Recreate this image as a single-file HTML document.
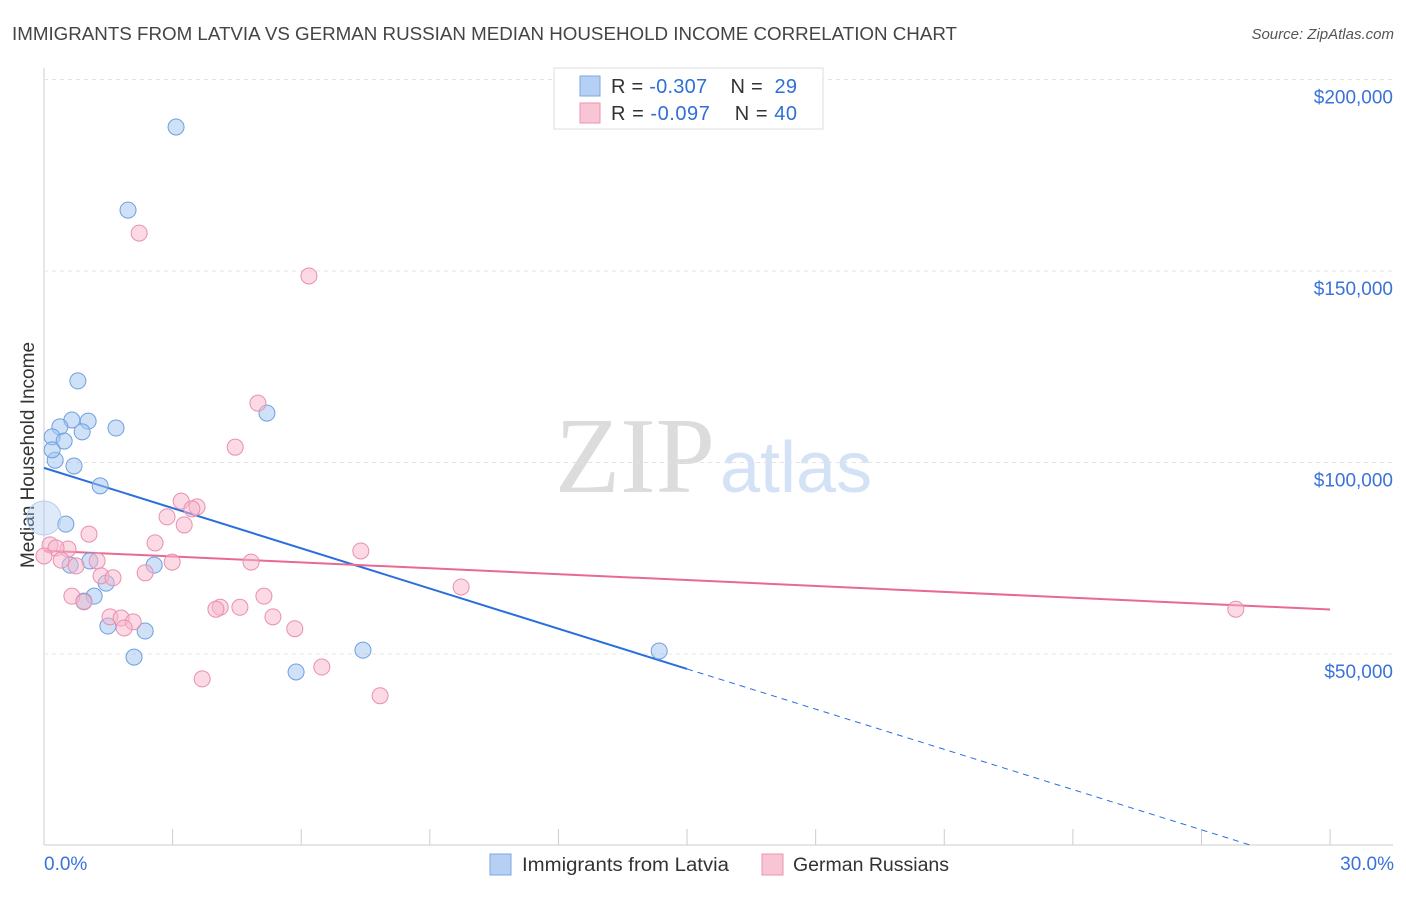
<!DOCTYPE html>
<html><head><meta charset="utf-8"><style>
body{margin:0;background:#fff;font-family:"Liberation Sans",sans-serif;}
</style></head><body>
<svg id="c" width="1406" height="892" xmlns="http://www.w3.org/2000/svg" style="font-family:'Liberation Sans',sans-serif">
<text x="12" y="40" font-size="18" fill="#444" textLength="945" lengthAdjust="spacingAndGlyphs">IMMIGRANTS FROM LATVIA VS GERMAN RUSSIAN MEDIAN HOUSEHOLD INCOME CORRELATION CHART</text>
<text x="1394" y="39" font-size="15" fill="#555" font-style="italic" text-anchor="end">Source: ZipAtlas.com</text>
<text x="555" y="492" font-size="108" fill="#dcdcdc" textLength="160" lengthAdjust="spacingAndGlyphs" font-family="'Liberation Serif',serif">ZIP</text>
<text x="720" y="492" font-size="72" fill="#d4e2f5">atlas</text>
<text transform="translate(34,455) rotate(-90)" font-size="19" fill="#333" text-anchor="middle">Median Household Income</text>
<g id="grid"></g><g id="lines"></g><g id="pts"></g>
<g>
<rect x="554" y="68" width="269" height="61" fill="#fff" stroke="#ddd"/>
<rect x="580" y="76" width="20" height="20" fill="#b5d0f3" stroke="#7aa7e3"/>
<rect x="580" y="103" width="20" height="20" fill="#f9c4d4" stroke="#eb95b2"/>
<text x="611" y="93" font-size="20" fill="#333" textLength="186" lengthAdjust="spacing">R = <tspan fill="#2f6fd6">-0.307</tspan>&#160;&#160;&#160;&#160;N = &#160;<tspan fill="#2f6fd6">29</tspan></text>
<text x="611" y="120" font-size="20" fill="#333" textLength="186" lengthAdjust="spacing">R = <tspan fill="#2f6fd6">-0.097</tspan>&#160;&#160;&#160;&#160;N = <tspan fill="#2f6fd6">40</tspan></text>
</g>
<text x="44" y="870" font-size="19" fill="#3a72d8">0.0%</text>
<text x="1394" y="870" font-size="19" fill="#3a72d8" text-anchor="end">30.0%</text>
<rect x="490" y="854" width="21" height="21" fill="#b5d0f3" stroke="#7aa7e3"/>
<text x="522" y="871" font-size="19" fill="#333" textLength="207" lengthAdjust="spacingAndGlyphs">Immigrants from Latvia</text>
<rect x="762" y="854" width="21" height="21" fill="#f9c4d4" stroke="#eb95b2"/>
<text x="793" y="871" font-size="19" fill="#333" textLength="156" lengthAdjust="spacingAndGlyphs">German Russians</text>
</svg>
<script>
const yTicks=[50000,100000,150000,200000];
const yTickLabels=["$50,000","$100,000","$150,000","$200,000"];
const xTicks=[0,3,6,9,12,15,18,21,24,27,30];
const latviaX=[3.08,1.96,0.79,5.2,1.68,0.65,1.03,0.37,0.89,0.19,0.47,0.26,0.70,1.31,0.51,0,0.61,1.07,2.57,1.45,1.17,0.93,1.49,2.36,2.10,5.88,7.44,14.35,0.19];
const latviaY=[187600,165900,121300,112900,109000,111100,110800,109300,108000,106700,105600,100600,99100,93900,83900,85500,73200,74300,73200,68500,65100,63800,57300,56000,49200,45300,51000,50800,103300];
const grX=[2.22,6.18,4.99,4.46,3.2,3.57,3.45,2.87,3.27,1.05,2.59,7.39,0.14,0.56,0.28,0,0.40,1.24,2.99,4.83,0.75,1.33,1.61,2.36,9.73,0.65,0.93,5.13,4.11,4.01,4.57,1.54,1.80,2.08,1.87,5.34,5.85,6.48,3.69,7.84,27.8];
const grY=[159900,148700,115500,104000,89900,88400,87900,85800,83700,81300,79000,76900,78500,77400,77700,75600,74500,74300,74000,74000,73000,70400,69900,71200,67500,65100,63600,65100,62200,61700,62200,59700,59400,58400,56800,59700,56600,46600,43500,39100,61700];
const latviaTrend=[98600,-3500];
const grTrend=[77000,-513];
const NS="http://www.w3.org/2000/svg";
const X=v=>44+v*42.87, Y=v=>845.5-v/261.1;
function mk(t,a,p){const e=document.createElementNS(NS,t);for(const k in a)e.setAttribute(k,a[k]);p.appendChild(e);return e;}
const g=document.getElementById('grid'),L=document.getElementById('lines'),P=document.getElementById('pts');
const ax=mk('line',{x1:44,y1:68,x2:44,y2:845,stroke:'#ccc'},g);


const bx=mk('line',{x1:44,y1:845,x2:1393,y2:845,stroke:'#ccc'},g);


yTicks.forEach((v,i)=>{
 const l=mk('line',{x1:44,y1:Y(v),x2:1393,y2:Y(v),stroke:'#e4e4e4','stroke-dasharray':'4,4'},g);
 
 
 const t=mk('text',{x:1393,y:Y(v)+24,'font-size':19,fill:'#3a72d8','text-anchor':'end'},g);
 t.textContent=yTickLabels[i];
 
 
});
xTicks.forEach(v=>{
 const l=mk('line',{x1:X(v),y1:829,x2:X(v),y2:845,stroke:'#ccc'},g);
 
 
});
const f=(t,x)=>t[0]+t[1]*x;
const b1=mk('line',{x1:X(0),y1:Y(f(latviaTrend,0)),x2:X(15),y2:Y(f(latviaTrend,15)),stroke:'#2a6fdb','stroke-width':2},L);


const xe=-latviaTrend[0]/latviaTrend[1];
const b2=mk('line',{x1:X(15),y1:Y(f(latviaTrend,15)),x2:X(xe),y2:Y(0),stroke:'#2a6fdb','stroke-width':1,'stroke-dasharray':'6,5'},L);


const p1=mk('line',{x1:X(0),y1:Y(f(grTrend,0)),x2:X(30),y2:Y(f(grTrend,30)),stroke:'#e86a93','stroke-width':2},L);


latviaX.forEach((x,i)=>{
 const big=x===0;
 const c=mk('circle',{cx:X(x),cy:Y(latviaY[i]),r:(big?17:8),fill:big?'rgba(160,196,240,0.35)':'rgba(160,196,240,0.5)',stroke:big?'#b5cdef':'#6f9fe0','stroke-width':1},P);
 
 
});
grX.forEach((x,i)=>{
 const c=mk('circle',{cx:X(x),cy:Y(grY[i]),r:8,fill:'rgba(247,182,204,0.5)',stroke:'#e98fae','stroke-width':1},P);
 
 
});
</script>
</body></html>
